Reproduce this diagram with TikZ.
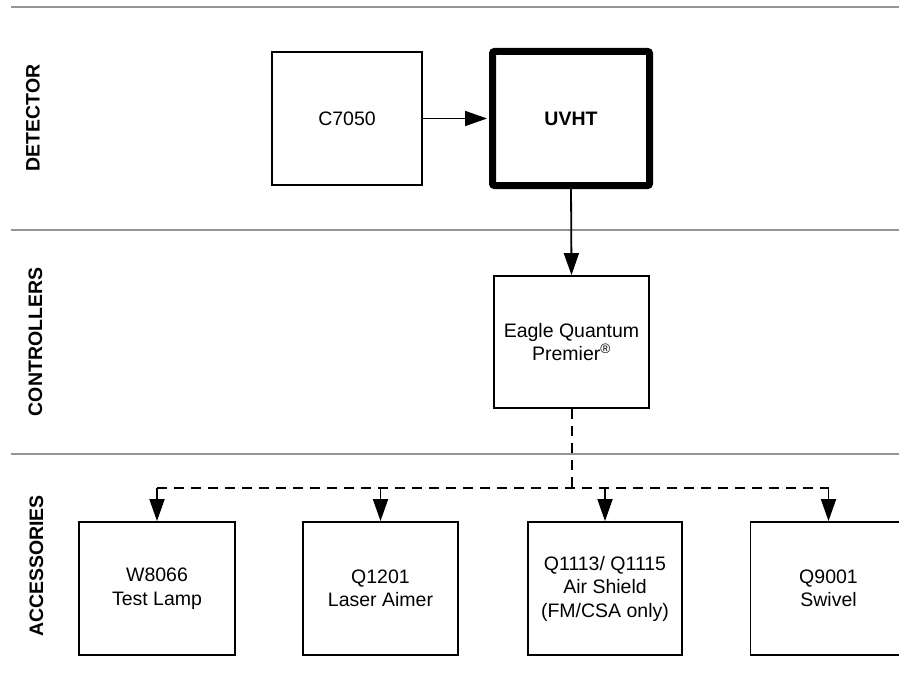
\documentclass[tikz,border=0pt]{standalone}
\usepackage{fontspec}
\setmainfont{Liberation Sans}
\usetikzlibrary{arrows.meta}
\begin{document}
\begin{tikzpicture}[x=1pt,y=-1pt,
  txt/.style={font=\fontsize{19.5}{23.5}\selectfont, align=center},
  box/.style={txt, draw, line width=1.8pt, inner sep=0pt, minimum height=133pt},
  sect/.style={font=\fontsize{19.5}{23.5}\selectfont\bfseries, rotate=90, inner sep=0pt},
  sep/.style={draw=black!42, line width=2pt},
  arr/.style={line width=1.8pt, -{Triangle[length=22pt,width=15pt]}},
  dline/.style={line width=2pt, dash pattern=on 10pt off 7pt}]
\useasboundingbox (0,0) rectangle (899,677);
\clip (0,0) rectangle (899,677);
\fill[white] (0,0) rectangle (899,677);
% separators
\draw[sep] (11,7) -- (899,7);
\draw[sep] (11,230) -- (899,230);
\draw[sep] (11,454) -- (899,454);
% section labels
\node[sect] (det) at (33,118) {DETECTOR};
\node[sect] (con) at (35.5,342) {CONTROLLERS};
\node[sect] (acc) at (36.5,566) {ACCESSORIES};
% detector row
\node[box, minimum width=150pt] (c7050) at (347,118.5) {C7050};
\node[box, minimum width=157pt, minimum height=134pt, line width=7pt, rounded corners=2pt, font=\fontsize{19.5}{23.5}\selectfont\bfseries] (uvht) at (571,118.5) {UVHT};
% controller
\node[box, minimum width=155pt, minimum height=132pt] (eqp) at (571.5,342) {Eagle Quantum\\Premier\textsuperscript{®}};
% accessories
\node[box, minimum width=156pt] (w8066) at (157,588.5) {W8066\\Test Lamp};
\node[box, minimum width=155pt] (q1201) at (380.5,588.5) {Q1201\\Laser Aimer};
\node[box, minimum width=154pt] (q1113) at (605,588.5) {Q1113/ Q1115\\Air Shield\\(FM/CSA only)};
\node[box, minimum width=156pt] (q9001) at (828.5,588.5) {Q9001\\Swivel};
% connectors
\draw[arr] (c7050.east) -- ([xshift=-2pt]uvht.west);
\draw[arr] ([yshift=3pt]uvht.south) -- (eqp.north);
\coordinate (j) at (571.5,488);
\coordinate (bl) at (157,488);
\coordinate (br) at (828.5,488);
\draw[dline] (eqp.south) -- (j);
\draw[dline] (bl) -- (br);
\draw[arr] (w8066.north |- j) -- (w8066.north);
\draw[arr] (q1201.north |- j) -- (q1201.north);
\draw[arr] (q1113.north |- j) -- (q1113.north);
\draw[arr] (q9001.north |- j) -- (q9001.north);
\end{tikzpicture}
\end{document}
